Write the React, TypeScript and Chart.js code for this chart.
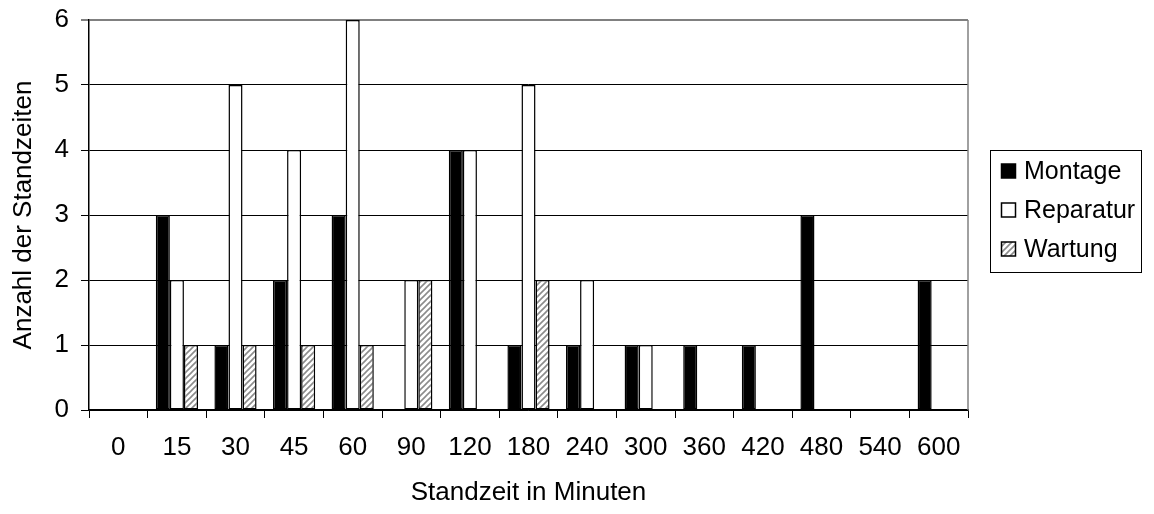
import React, { useEffect, useRef } from "react";
import { Chart, registerables } from "chart.js";

Chart.register(...registerables);

const categories = ["0", "15", "30", "45", "60", "90", "120", "180", "240", "300", "360", "420", "480", "540", "600"];
const montage = [0, 3, 1, 2, 3, 0, 4, 1, 1, 1, 1, 1, 3, 0, 2];
const reparatur = [0, 2, 5, 4, 6, 2, 4, 5, 2, 1, 0, 0, 0, 0, 0];
const wartung = [0, 1, 1, 1, 1, 2, 0, 2, 0, 0, 0, 0, 0, 0, 0];
const seriesNames = ["Montage", "Reparatur", "Wartung"];

const FONT = "'Liberation Sans', Arial, sans-serif";
const FONT_SIZE = 26;

// Diagonal grey stripes on white for the third series
function makeHatch(): CanvasPattern | string {
  const c = document.createElement("canvas");
  c.width = 6;
  c.height = 6;
  const g = c.getContext("2d");
  if (!g) return "#aaa";
  g.fillStyle = "#ffffff";
  g.fillRect(0, 0, 6, 6);
  g.strokeStyle = "#8c8c8c";
  g.lineWidth = 1.6;
  g.beginPath();
  g.moveTo(-1, 7);
  g.lineTo(7, -1);
  g.moveTo(-4, 4);
  g.lineTo(4, -4);
  g.moveTo(2, 10);
  g.lineTo(10, 2);
  g.stroke();
  const p = g.createPattern(c, "repeat");
  return p || "#aaa";
}

// Right edge of the plot frame plus a boxed legend on the right
const frameAndLegend = {
  id: "frameAndLegend",
  afterDraw(chart: any) {
    const ctx = chart.ctx;
    const a = chart.chartArea;
    ctx.save();
    ctx.strokeStyle = "#808080";
    ctx.lineWidth = 1.5;
    ctx.beginPath();
    ctx.moveTo(a.right, a.top);
    ctx.lineTo(a.right, a.bottom);
    ctx.stroke();

    const bx = 990.5, by = 150.5, bw = 151, bh = 122;
    ctx.strokeStyle = "#000";
    ctx.lineWidth = 1;
    ctx.strokeRect(bx, by, bw, bh);
    ctx.font = `${FONT_SIZE - 1}px ${FONT}`;
    ctx.textBaseline = "middle";
    chart.data.datasets.forEach((ds: any, i: number) => {
      const cy = 171 + i * 39;
      const sx = 1001.5, sz = 14;
      ctx.fillStyle = ds.backgroundColor;
      ctx.fillRect(sx, cy - sz / 2, sz, sz);
      ctx.strokeStyle = "#000";
      ctx.lineWidth = 1.5;
      ctx.strokeRect(sx, cy - sz / 2, sz, sz);
      ctx.fillStyle = "#000";
      ctx.fillText(ds.label, 1024, cy + 1);
    });
    ctx.restore();
  },
};

export default function App() {
  const ref = useRef<HTMLCanvasElement | null>(null);

  useEffect(() => {
    if (!ref.current) return;
    const hatch = makeHatch();
    const common = {
      borderColor: "#000",
      borderWidth: (c: any) => (c.raw ? 1.5 : 0),
      borderSkipped: false,
      barPercentage: 1,
      categoryPercentage: 0.72,
    };
    const font = { family: FONT, size: FONT_SIZE };
    const chart = new Chart(ref.current, {
      type: "bar",
      data: {
        labels: categories,
        datasets: [
          { label: seriesNames[0], data: montage, backgroundColor: "#000000", ...common },
          { label: seriesNames[1], data: reparatur, backgroundColor: "#ffffff", ...common },
          { label: seriesNames[2], data: wartung, backgroundColor: hatch as any, ...common },
        ],
      },
      options: {
        animation: false,
        responsive: false,
        devicePixelRatio: 1,
        layout: { padding: { left: 8, top: 20, right: 186, bottom: 0 } },
        plugins: {
          legend: { display: false },
          tooltip: { enabled: false },
        },
        scales: {
          x: {
            offset: true,
            grid: {
              offset: true,
              drawOnChartArea: false,
              drawTicks: true,
              tickLength: 8,
              color: "#000",
            },
            border: { color: "#000", width: 1.5 },
            ticks: { color: "#000", font, padding: 14, maxRotation: 0, autoSkip: false },
            title: {
              display: true,
              text: "Standzeit in Minuten",
              color: "#000",
              font,
              padding: { top: 0, bottom: 6 },
            },
            afterFit: (s: any) => {
              s.height = 104;
              s.paddingLeft = 0;
              s.paddingRight = 0;
            },
          },
          y: {
            min: 0,
            max: 6,
            ticks: { stepSize: 1, color: "#000", font, padding: 12 },
            grid: {
              color: (c: any) => (c.tick && c.tick.value === 6 ? "#808080" : "#000"),
              lineWidth: (c: any) => (c.tick && c.tick.value === 6 ? 2 : 1),
              tickLength: 8,
            },
            border: { color: "#000", width: 1.5 },
            title: {
              display: true,
              text: "Anzahl der Standzeiten",
              color: "#000",
              font,
              padding: { top: 0, bottom: 3 },
            },
            afterFit: (s: any) => {
              s.width = 81;
              s.paddingTop = 0;
              s.paddingBottom = 0;
            },
          },
        },
      },
      plugins: [frameAndLegend],
    });
    return () => chart.destroy();
  }, []);

  return (
    <div style={{ position: "fixed", left: 0, top: 0, width: 1154, height: 514, background: "#fff" }}>
      <canvas ref={ref} width={1154} height={514} style={{ width: 1154, height: 514 }} />
    </div>
  );
}
